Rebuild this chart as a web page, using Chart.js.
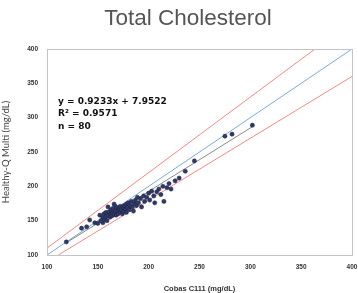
<!DOCTYPE html>
<html>
<head>
<meta charset="utf-8">
<script src="https://cdn.jsdelivr.net/npm/chart.js@4/dist/chart.umd.min.js"></script>
<style>
  html, body { margin: 0; padding: 0; background: #fff; }
  #chol { display: block; }
</style>
</head>
<body>
<canvas id="chol" width="358" height="293"></canvas>
<script>

// valeurs (mg/dL)
const cobasValues = [119, 134, 139, 142, 147, 155, 150, 152, 153, 155, 156, 157, 158, 158, 159, 160, 161, 162, 163, 163,
    164, 165, 165, 166, 167, 168, 168, 169, 170, 170, 171, 172, 172, 173, 174, 175, 175, 176, 177, 178,
    178, 179, 180, 181, 182, 183, 184, 185, 186, 187, 188, 189, 190, 192, 193, 195, 196, 198, 200, 201,
    203, 205, 206, 208, 210, 212, 214, 215, 218, 220, 222, 226, 230, 236, 245, 275, 282, 302, 160, 166];
const healthyQValues = [119, 139, 141, 151, 147, 147, 146, 158, 150, 155, 160, 152, 156, 162, 150, 158, 163, 155, 160, 166,
    157, 162, 168, 159, 164, 158, 170, 163, 166, 160, 168, 163, 171, 166, 160, 170, 164, 172, 167, 162,
    174, 169, 176, 166, 172, 178, 170, 164, 175, 180, 172, 184, 176, 182, 170, 186, 178, 184, 190, 180,
    193, 186, 176, 192, 196, 188, 200, 178, 198, 204, 196, 208, 212, 222, 237, 273, 276, 289, 170, 174];

// droites : identite, +10 %, -10 %, regression
const identityLine = [{ x: 100, y: 100 }, { x: 400, y: 400 }];
const upperLine = [{ x: 100, y: 110 }, { x: 363.6, y: 400 }];
const lowerLine = [{ x: 111.1, y: 100 }, { x: 400, y: 360 }];
const regressionLine = [{ x: 119, y: 117.8 }, { x: 302, y: 286.8 }];

const axisTicks = [100, 150, 200, 250, 300, 350, 400];
const statsLines = ['y = 0.9233x + 7.9522', 'R\u00B2 = 0.9571', 'n = 80'];
const titre = 'Total Cholesterol';

const points = cobasValues.map((x, i) => ({ x: x, y: healthyQValues[i] }));

const decor = {
    id: 'decor',
    afterDatasetsDraw(chart) {
        const ctx = chart.ctx;
        const a = chart.chartArea;
        ctx.save();
        ctx.strokeStyle = '#c4c4c4';
        ctx.lineWidth = 1;
        ctx.strokeRect(Math.round(a.left) + 0.5, Math.round(a.top) + 0.5, Math.round(a.right - a.left), Math.round(a.bottom - a.top));

        ctx.fillStyle = '#111';
        ctx.font = 'bold 9px "DejaVu Sans"';
        ctx.textBaseline = 'middle';
        ctx.textAlign = 'left';
        const rows = [102, 114, 127];
        statsLines.forEach((t, i) => ctx.fillText(t, 58, rows[i]));

        ctx.fillStyle = '#555';
        ctx.font = '22.5px "Liberation Sans"';
        ctx.textAlign = 'center';
        ctx.fillText(titre, 188, 19);
        ctx.restore();
    }
};

new Chart(document.querySelector('#chol'), {

    type: 'scatter',
    data: {
        datasets: [
            {
                label: 'points',
                data: points,
                backgroundColor: '#2f3a66',
                borderColor: '#1c2140',
                borderWidth: 0.5,
                pointRadius: 2.1
            },
            {
                label: 'regression',
                data: regressionLine,
                showLine: true,
                borderColor: '#555',
                borderWidth: 0.7,
                pointRadius: 0
            },
            {
                label: 'identite',
                data: identityLine,
                showLine: true,
                borderColor: '#7eaad4',
                borderWidth: 1,
                pointRadius: 0
            },
            {
                label: '+10%',
                data: upperLine,
                showLine: true,
                borderColor: '#ec8a8a',
                borderWidth: 1,
                pointRadius: 0
            },
            {
                label: '-10%',
                data: lowerLine,
                showLine: true,
                borderColor: '#ec8a8a',
                borderWidth: 1,
                pointRadius: 0
            }
        ]
    },
    options: {
        responsive: false,
        animation: false,
        layout: {
            autoPadding: false,
            padding: { top: 49, right: 6, left: 0, bottom: 0 }
        },
        plugins: {
            legend: { display: false },
            tooltip: { enabled: false },
            title: { display: false }
        },
        scales: {
            x: {
                type: 'linear',
                min: 100,
                max: 400,
                afterBuildTicks: (s) => { s.ticks = axisTicks.map(v => ({ value: v })); },
                afterFit: (s) => { s.height = 38; s.paddingLeft = 0; s.paddingRight = 0; },
                grid: { display: false, drawTicks: false },
                border: { display: true, color: '#c4c4c4' },
                ticks: {
                    padding: 8,
                    color: '#333',
                    font: { family: 'Liberation Sans', size: 6.5, weight: 'bold' },
                    maxRotation: 0
                },
                title: {
                    display: true,
                    text: 'Cobas C111 (mg/dL)',
                    color: '#333',
                    font: { family: 'Liberation Sans', size: 7.5, weight: 'bold' },
                    padding: { top: 4, bottom: 0 }
                }
            },
            y: {
                type: 'linear',
                min: 100,
                max: 400,
                afterBuildTicks: (s) => { s.ticks = axisTicks.map(v => ({ value: v })); },
                afterFit: (s) => { s.width = 47; s.paddingTop = 0; s.paddingBottom = 0; },
                grid: { display: false, drawTicks: false },
                border: { display: true, color: '#c4c4c4' },
                ticks: {
                    padding: 9,
                    color: '#333',
                    font: { family: 'Liberation Sans', size: 6.5, weight: 'bold' }
                },
                title: {
                    display: true,
                    text: 'Healthy-Q Multi (mg/dL)',
                    color: '#444',
                    font: { family: 'Lato', size: 9.5 },
                    padding: { top: 0, bottom: 0 }
                }
            }
        }
    },
    plugins: [decor]

});

</script>
</body>
</html>
